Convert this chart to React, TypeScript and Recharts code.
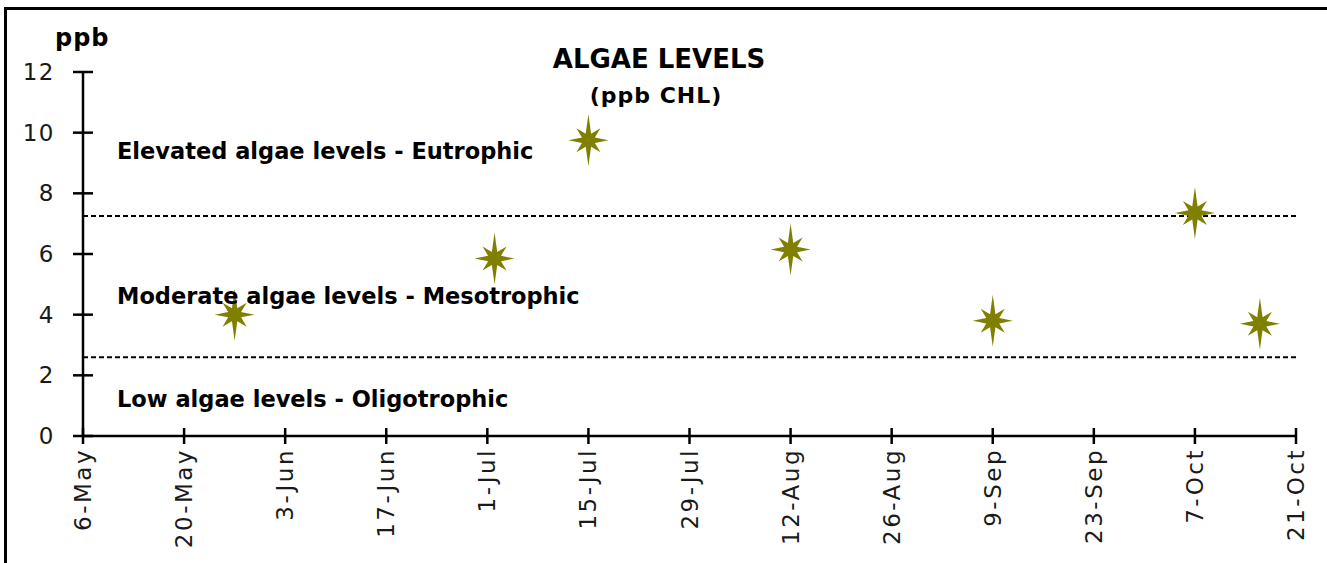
import React from 'react';
import { ScatterChart, Scatter, XAxis, YAxis, ReferenceLine } from 'recharts';

const startDate = '2019-05-06';
const tickDates = [
  '2019-05-06', '2019-05-20', '2019-06-03', '2019-06-17', '2019-07-01', '2019-07-15', '2019-07-29',
  '2019-08-12', '2019-08-26', '2019-09-09', '2019-09-23', '2019-10-07', '2019-10-21',
];
const tickLabels = [
  '6-May', '20-May', '3-Jun', '17-Jun', '1-Jul', '15-Jul', '29-Jul',
  '12-Aug', '26-Aug', '9-Sep', '23-Sep', '7-Oct', '21-Oct',
];
const sampleDates = ['2019-05-27', '2019-07-02', '2019-07-15', '2019-08-12', '2019-09-09', '2019-10-07', '2019-10-16'];
const chlValues = [4.0, 5.85, 9.75, 6.15, 3.8, 7.35, 3.7];
const yTicks = [0, 2, 4, 6, 8, 10, 12];
const eutrophicLimit = 7.25;
const oligotrophicLimit = 2.6;

const dayOffset = (iso: string) =>
  Math.round((Date.parse(iso + 'T00:00:00Z') - Date.parse(startDate + 'T00:00:00Z')) / 86400000);

const tickValues = tickDates.map(dayOffset);
const data = sampleDates.map((d, i) => ({ day: dayOffset(d), chl: chlValues[i] }));

const TICK_FONT = '"DejaVu Sans", sans-serif';
const LABEL_FONT = '"DejaVu Sans", sans-serif';

const XTick = (props: any) => {
  const { x, y, payload } = props;
  const idx = tickValues.indexOf(payload.value);
  const label = idx >= 0 ? tickLabels[idx] : '';
  const ty = y + 12;
  return (
    <g>
      <line x1={x} x2={x} y1={y - 8} y2={y + 8} stroke="#000" strokeWidth={2.5} />
      <text
        x={x}
        y={ty}
        transform={`rotate(-90 ${x} ${ty})`}
        textAnchor="end"
        dominantBaseline="central"
        fontFamily={TICK_FONT}
        fontSize={23}
        letterSpacing={2.5}
        fill="#1a1a1a"
      >
        {label}
      </text>
    </g>
  );
};

const YTick = (props: any) => {
  const { x, y, payload } = props;
  return (
    <g>
      <line x1={x - 10} x2={x + 10} y1={y} y2={y} stroke="#000" strokeWidth={2.5} />
      <text
        x={x - 28}
        y={y}
        textAnchor="end"
        dominantBaseline="central"
        fontFamily={TICK_FONT}
        fontSize={23}
        letterSpacing={1.5}
        fill="#1a1a1a"
      >
        {payload.value}
      </text>
    </g>
  );
};

const starPath = (cx: number, cy: number) => {
  const outer = [20, 17, 26, 17, 20, 17, 26, 17];
  const inner = 7;
  const pts: string[] = [];
  for (let i = 0; i < 8; i++) {
    const a = (i * Math.PI) / 4;
    pts.push(`${cx + outer[i] * Math.cos(a)},${cy - outer[i] * Math.sin(a)}`);
    const b = a + Math.PI / 8;
    pts.push(`${cx + inner * Math.cos(b)},${cy - inner * Math.sin(b)}`);
  }
  return 'M' + pts.join('L') + 'Z';
};

const Star = (props: any) => {
  const { cx, cy } = props;
  if (cx == null || cy == null) return null;
  return <path d={starPath(cx, cy)} fill="#808000" stroke="none" />;
};

export default function App() {
  return (
    <div style={{ position: 'absolute', left: 0, top: 0, width: 1327, height: 563, background: '#fff', overflow: 'hidden' }}>
      <div
        style={{
          position: 'absolute',
          left: 4,
          top: 7,
          width: 1323,
          height: 556,
          boxSizing: 'border-box',
          borderTop: '3px solid #000',
          borderLeft: '3px solid #000',
        }}
      />
      <div style={{ position: 'absolute', left: 0, top: 0 }}>
        <ScatterChart width={1327} height={563} margin={{ top: 72, right: 31, bottom: 0, left: 0 }}>
          <XAxis
            type="number"
            dataKey="day"
            domain={[tickValues[0], tickValues[tickValues.length - 1]]}
            ticks={tickValues}
            interval={0}
            height={127}
            tickSize={0}
            tickMargin={0}
            tickLine={false}
            axisLine={{ stroke: '#000', strokeWidth: 2.5 }}
            tick={<XTick />}
            allowDataOverflow
          />
          <YAxis
            type="number"
            dataKey="chl"
            domain={[0, 12]}
            ticks={yTicks}
            interval={0}
            width={83}
            tickSize={0}
            tickMargin={0}
            tickLine={false}
            axisLine={{ stroke: '#000', strokeWidth: 2.5 }}
            tick={<YTick />}
          />
          <ReferenceLine y={eutrophicLimit} stroke="#000" strokeWidth={2} strokeDasharray="5 3" />
          <ReferenceLine y={oligotrophicLimit} stroke="#000" strokeWidth={2} strokeDasharray="5 3" />
          <Scatter data={data} shape={<Star />} isAnimationActive={false} />
        </ScatterChart>
      </div>
      <svg width={1327} height={563} style={{ position: 'absolute', left: 0, top: 0, pointerEvents: 'none' }}>
        <text x={55} y={46} fontFamily={LABEL_FONT} fontWeight={700} fontSize={24} letterSpacing={1} fill="#000">ppb</text>
        <text x={659} y={68} textAnchor="middle" fontFamily={LABEL_FONT} fontWeight={700} fontSize={26} fill="#000">ALGAE LEVELS</text>
        <text x={656} y={103} textAnchor="middle" fontFamily={LABEL_FONT} fontWeight={700} fontSize={22} letterSpacing={1} fill="#000">(ppb CHL)</text>
        <text x={117} y={151} dominantBaseline="central" fontFamily={LABEL_FONT} fontWeight={700} fontSize={22.5} fill="#000">Elevated algae levels - Eutrophic</text>
        <text x={117} y={296} dominantBaseline="central" fontFamily={LABEL_FONT} fontWeight={700} fontSize={22.5} fill="#000">Moderate algae levels - Mesotrophic</text>
        <text x={117} y={399} dominantBaseline="central" fontFamily={LABEL_FONT} fontWeight={700} fontSize={22.5} fill="#000">Low algae levels - Oligotrophic</text>
      </svg>
    </div>
  );
}
